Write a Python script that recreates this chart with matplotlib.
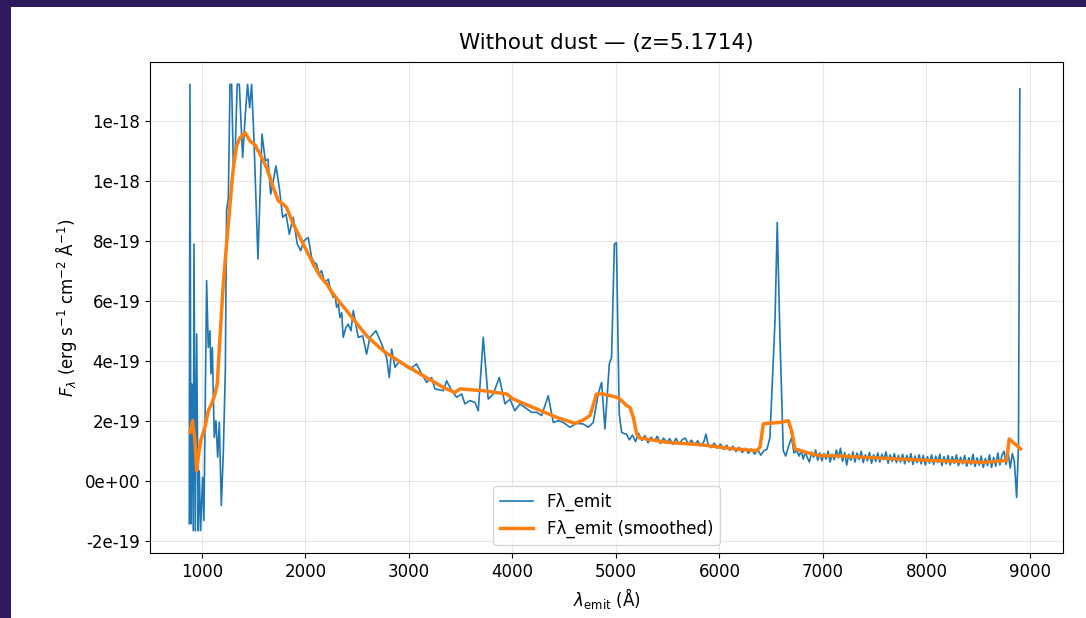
import numpy as np
import matplotlib
matplotlib.use('Agg')
import matplotlib.pyplot as plt
from matplotlib.patches import Rectangle
from matplotlib.ticker import FormatStrFormatter

# spectrum (flux in units of 1e-19 erg/s/cm2/A)
# UV part
lam_uv = [877, 884, 894, 903, 916, 923, 936, 949, 964, 974, 987, 1006, 1019,
          1045, 1061, 1077, 1087, 1100, 1119, 1135, 1152, 1168, 1187, 1206,
          1226, 1238, 1255, 1271, 1287, 1303, 1322, 1341, 1361, 1393, 1419,
          1441, 1461, 1480, 1502, 1541, 1580, 1612, 1638, 1664, 1689, 1715,
          1747, 1780, 1812, 1844, 1882, 1921, 1954, 1986, 2027, 2060, 2080,
          2108, 2130, 2156, 2185, 2221, 2245, 2269, 2285, 2301, 2318, 2333,
          2350, 2365, 2390, 2414, 2440, 2462]
flux_uv = [-1.44, 13.22, -1.44, 3.22, -1.67, 7.89, -1.67, 4.89, -1.67, 0.33,
           -1.67, 0.11, -1.33, 6.67, 4.44, 5.0, 3.56, 4.44, 1.44, 2.0, 0.78,
           1.95, -0.83, 0.89, 3.67, 9.0, 9.44, 13.22, 13.22, 10.5, 11.11,
           13.22, 13.22, 10.78, 12.22, 13.22, 12.44, 13.22, 11.44, 7.39,
           11.56, 10.67, 10.72, 9.56, 10.0, 10.5, 9.78, 8.78, 8.89, 8.22,
           8.78, 7.89, 7.67, 8.0, 8.11, 7.44, 7.3, 7.22, 6.9, 7.0, 6.6, 6.72,
           6.3, 6.11, 6.2, 5.78, 5.9, 5.44, 5.6, 4.78, 5.1, 5.22, 5.0, 5.67]

# optical part up to [OIII]
lam_opt = [2510, 2553, 2591, 2623, 2681, 2736, 2784, 2810, 2833, 2865, 2913,
           2961, 3010, 3074, 3123, 3171, 3219, 3251, 3332, 3364, 3413, 3461,
           3509, 3541, 3589, 3638, 3670, 3718, 3766, 3815, 3873, 3928, 3976,
           4024, 4073, 4121, 4185, 4234, 4282, 4346, 4395, 4443, 4491, 4556,
           4620, 4684, 4733, 4781, 4829, 4862, 4894, 4936, 4958, 4985, 5005,
           5032, 5055, 5087]
flux_opt = [4.78, 4.83, 4.22, 4.78, 5.0, 4.56, 4.11, 3.44, 4.39, 3.78, 4.0,
            3.83, 3.72, 3.89, 3.56, 3.28, 3.44, 3.06, 3.0, 3.33, 3.0, 2.78,
            2.89, 2.56, 2.67, 2.61, 2.33, 4.78, 2.72, 2.89, 3.44, 2.56, 2.72,
            2.33, 2.56, 2.44, 2.28, 2.28, 2.17, 2.83, 1.94, 2.0, 1.94, 1.78,
            1.91, 1.89, 1.78, 1.94, 2.89, 3.28, 1.72, 3.89, 4.11, 7.89, 7.94,
            2.22, 1.61, 1.56]

# red part with H-alpha
lam_red = [5100, 5130, 5160, 5190, 5220, 5250, 5280, 5310, 5340, 5370, 5400,
           5430, 5460, 5490, 5520, 5550, 5580, 5610, 5640, 5670, 5700, 5730,
           5760, 5790, 5820, 5850, 5870, 5890, 5920, 5950, 5980, 6010, 6040,
           6070, 6100, 6130, 6160, 6190, 6220, 6250, 6280, 6310, 6340, 6370,
           6400, 6430, 6460, 6488, 6537, 6559, 6585, 6617, 6640, 6665, 6697,
           6720, 6746, 6770]
flux_red = [1.56, 1.36, 1.52, 1.30, 1.58, 1.34, 1.50, 1.26, 1.45, 1.31, 1.48,
            1.24, 1.42, 1.27, 1.40, 1.21, 1.41, 1.22, 1.36, 1.42, 1.22, 1.35,
            1.18, 1.33, 1.16, 1.30, 1.55, 1.22, 1.10, 1.25, 1.08, 1.22, 1.04,
            1.18, 1.01, 1.15, 0.97, 1.11, 0.94, 1.08, 0.91, 1.05, 0.88, 1.03,
            0.85, 1.0, 1.05, 1.44, 5.33, 8.61, 4.78, 1.0, 0.82, 1.11, 1.44,
            0.92, 1.0, 0.82]

# near-IR tail
lam_ir = [6790, 6810, 6830, 6850, 6870, 6890, 6910, 6930, 6950, 6970, 6990,
          7010, 7030, 7050, 7070, 7090, 7110, 7130, 7150, 7170, 7190, 7210,
          7230, 7250, 7270, 7290, 7310, 7330, 7350, 7370, 7390, 7410, 7430,
          7450, 7470, 7490, 7510, 7530, 7550, 7570, 7590, 7610, 7630, 7650,
          7670, 7690, 7710, 7730, 7750, 7770, 7790, 7810, 7830, 7850, 7870,
          7890, 7910, 7930, 7950, 7970, 7990, 8010, 8030, 8050, 8070, 8090,
          8110, 8130, 8150, 8170, 8190, 8210, 8230, 8250, 8270, 8290, 8310,
          8330, 8350, 8370, 8390, 8410, 8430, 8450, 8470, 8490, 8510, 8530,
          8550, 8570, 8590, 8610, 8630, 8650, 8670, 8690, 8710, 8730, 8750,
          8770, 8790, 8810, 8830, 8850, 8872, 8890, 8903]
flux_ir = [1.00, 0.72, 0.96, 0.76, 0.62, 0.95, 0.78, 1.02, 0.68, 0.92, 0.66,
           0.90, 0.72, 0.98, 0.62, 0.88, 0.70, 1.02, 0.76, 1.08, 0.64, 0.94,
           0.52, 0.88, 0.68, 0.96, 0.62, 0.92, 0.70, 0.98, 0.60, 0.86, 0.66,
           0.94, 0.58, 0.86, 0.64, 0.92, 0.62, 0.88, 0.70, 0.96, 0.58, 0.86,
           0.64, 0.90, 0.60, 0.84, 0.62, 0.88, 0.56, 0.84, 0.62, 0.90, 0.54,
           0.82, 0.60, 0.86, 0.56, 0.84, 0.52, 0.80, 0.58, 0.86, 0.54, 0.82,
           0.60, 0.88, 0.50, 0.80, 0.56, 0.84, 0.52, 0.80, 0.58, 0.86, 0.50,
           0.78, 0.56, 0.84, 0.48, 0.76, 0.54, 0.88, 0.47, 0.76, 0.52, 0.82,
           0.44, 0.74, 0.50, 0.86, 0.44, 0.78, 0.48, 0.92, 0.52, 0.84, 0.98,
           0.54, 0.94, 0.42, 0.90, 0.64, -0.56, 1.2, 13.07]

# smoothed curve
lam_s = [884, 910, 932, 949, 964, 987, 1029, 1061, 1093, 1126, 1148, 1174,
         1206, 1238, 1271, 1303, 1335, 1367, 1416, 1464, 1512, 1561, 1625,
         1689, 1738, 1786, 1818, 1882, 1947, 2011, 2076, 2140, 2205, 2269,
         2333, 2398, 2462, 2526, 2600, 2752, 2945, 3138, 3332, 3444, 3493,
         3718, 3944, 4008, 4201, 4427, 4604, 4684, 4749, 4813, 4878, 5007,
         5039, 5104, 5136, 5168, 5200, 5232, 5490, 5812, 6134, 6359, 6392,
         6424, 6456, 6585, 6665, 6697, 6730, 6842, 6971, 7100, 7744, 8066,
         8549, 8775, 8800, 8910]
flux_s = [1.61, 2.0, 1.33, 0.33, 0.78, 1.33, 1.78, 2.33, 2.56, 2.89, 3.22,
          4.78, 6.56, 7.89, 9.22, 10.44, 11.17, 11.44, 11.61, 11.33, 11.2,
          10.89, 10.44, 9.78, 9.33, 9.22, 9.11, 8.56, 8.11, 7.67, 7.22,
          6.83, 6.56, 6.22, 5.94, 5.67, 5.39, 5.11, 4.8, 4.33, 3.89, 3.5,
          3.11, 2.94, 3.06, 3.0, 2.89, 2.72, 2.44, 2.11, 1.91, 2.02, 2.17,
          2.89, 2.89, 2.78, 2.72, 2.5, 2.44, 2.11, 1.56, 1.42, 1.28, 1.2,
          1.06, 1.0, 1.11, 1.89, 1.91, 1.94, 2.0, 1.67, 1.06, 0.94, 0.83,
          0.83, 0.72, 0.67, 0.61, 0.67, 1.39, 1.06]

title = "Without dust — (z=5.1714)"

lam = lam_uv + lam_opt + lam_red + lam_ir
flux = np.array(flux_uv + flux_opt + flux_red + flux_ir) * 1e-19

plt.rcParams['font.size'] = 12

fig = plt.figure(figsize=(10.86, 6.18), dpi=100, facecolor='#2f1a5e')
# white "screenshot" area inside the dark frame
fig.add_artist(Rectangle((11/1086, 0), 1, 611/618, transform=fig.transFigure,
                         facecolor='white', edgecolor='none', zorder=-10))
ax = fig.add_axes([150/1086, 65/618, 913/1086, 491/618])

ax.plot(lam, flux, color='#1f77b4', lw=1.2, label='Fλ_emit')
ax.plot(lam_s, np.array(flux_s)*1e-19, color='#ff7f0e', lw=2.5,
        label='Fλ_emit (smoothed)')

ax.set_xlim(498, 9320)
ax.yaxis.set_major_formatter(FormatStrFormatter('%.0e'))
ax.grid(True, alpha=0.3)
ax.set_title(title, fontsize=15.5, pad=9)
ax.set_xlabel(r'$\lambda_{\rm emit}$ (Å)')
ax.set_ylabel(r'$F_\lambda$ (erg s$^{-1}$ cm$^{-2}$ Å$^{-1}$)')
ax.legend(loc='lower center')

fig.savefig('out.png', dpi=100)
